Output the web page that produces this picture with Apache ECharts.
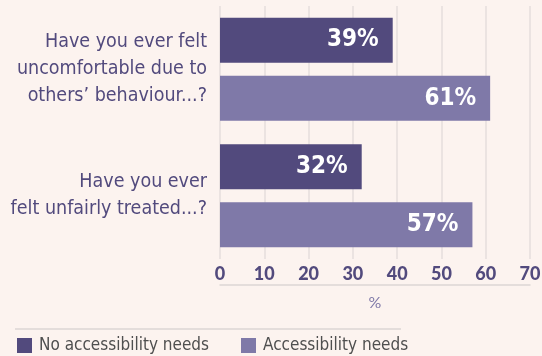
<!DOCTYPE html>
<html>
<head>
<meta charset="utf-8">
<style>
  html, body { margin: 0; padding: 0; background: #fcf3ef; }
  #chart { width: 542px; height: 356px; }
</style>
<script src="https://cdn.jsdelivr.net/npm/echarts@6/dist/echarts.min.js"></script>
</head>
<body>
<div id="chart"></div>
<script>
// Survey questions (top to bottom)
const questions = [
  'Have you ever felt\nuncomfortable due to\nothers\u2019 behaviour...?',
  'Have you ever\nfelt unfairly treated...?'
];
const seriesNames = ['No accessibility needs', 'Accessibility needs'];
const noNeeds = [39, 32];
const withNeeds = [61, 57];
const xTicks = [0, 10, 20, 30, 40, 50, 60, 70];

const DARK = '#524a7d';
const LIGHT = '#7f79a8';
const CONDENSED = '"DejaVu Sans Condensed", "Liberation Sans Narrow", sans-serif';

const chart = echarts.init(document.getElementById('chart'));

const barLabel = {
  show: true,
  position: 'insideRight',
  distance: 14,
  formatter: p => p.value + '%',
  color: '#ffffff',
  fontFamily: CONDENSED,
  fontWeight: 'bold',
  fontSize: 24
};

chart.setOption({
  backgroundColor: '#fcf3ef',
  animation: false,
  grid: { left: 220, right: 12, top: 6, bottom: 97, outerBoundsMode: 'none', containLabel: false },
  xAxis: [
    {
      type: 'value',
      min: xTicks[0],
      max: xTicks[xTicks.length - 1],
      interval: 10,
      axisLine: { show: false },
      axisTick: { show: false },
      splitLine: { show: true, lineStyle: { color: '#e6dedc', width: 1.5 } },
      axisLabel: {
        margin: 6,
        color: DARK,
        fontFamily: 'Lato, "DejaVu Sans", sans-serif',
        fontWeight: 900,
        fontSize: 18
      }
    },
    {
      type: 'value',
      position: 'bottom',
      offset: 26,
      min: xTicks[0],
      max: xTicks[xTicks.length - 1],
      interval: 10,
      axisLine: { show: true, lineStyle: { color: '#dcd6d5', width: 1.5 } },
      axisTick: { show: false },
      axisLabel: { show: false },
      splitLine: { show: false },
      name: '%',
      nameLocation: 'middle',
      nameGap: 10,
      nameTextStyle: {
        color: '#7f79a8',
        fontFamily: 'Lato, "DejaVu Sans", sans-serif',
        fontSize: 16
      }
    }
  ],
  yAxis: {
    type: 'category',
    inverse: true,
    data: questions,
    axisLine: { show: false },
    axisTick: { show: false },
    axisLabel: {
      margin: 13,
      color: DARK,
      fontFamily: CONDENSED,
      fontSize: 19.5,
      lineHeight: 27,
      align: 'right'
    }
  },
  legend: {
    left: 12,
    top: 332,
    itemWidth: 15,
    itemHeight: 15,
    itemGap: 32,
    icon: 'rect',
    textStyle: {
      color: '#4f4f4f',
      fontFamily: CONDENSED,
      fontSize: 17,
      padding: [2, 0, 0, 2]
    },
    data: seriesNames
  },
  graphic: [
    {
      type: 'line',
      shape: { x1: 15, y1: 329, x2: 401, y2: 329 },
      style: { stroke: '#dcd6d5', lineWidth: 1.5 }
    }
  ],
  series: [
    {
      name: seriesNames[0],
      type: 'bar',
      data: noNeeds,
      barWidth: 45,
      barGap: '29%',
      itemStyle: { color: DARK },
      label: barLabel
    },
    {
      name: seriesNames[1],
      type: 'bar',
      data: withNeeds,
      barWidth: 45,
      barGap: '29%',
      itemStyle: { color: LIGHT },
      label: barLabel
    }
  ]
});
</script>
</body>
</html>
